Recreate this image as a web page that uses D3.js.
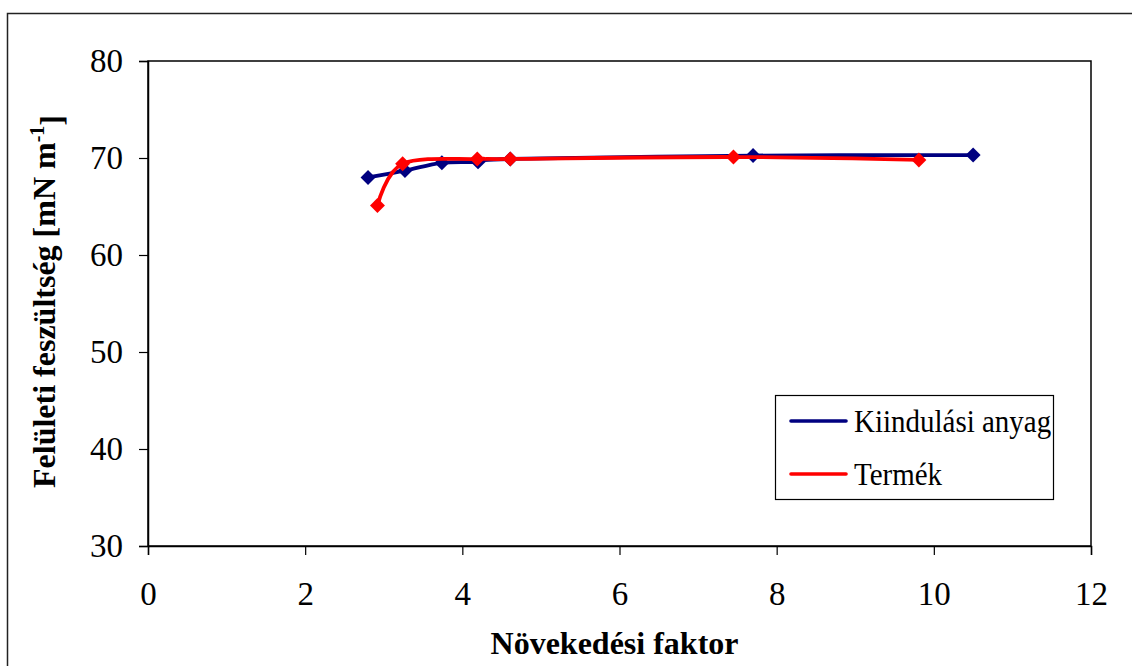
<!DOCTYPE html>
<html>
<head>
<meta charset="utf-8">
<script src="https://cdn.jsdelivr.net/npm/d3@7"></script>
<style>
  html, body { margin: 0; padding: 0; background: #fff; }
  svg { display: block; }
  svg text { font-family: "Liberation Serif", "Times New Roman", Tinos, Times, "DejaVu Serif", serif !important; }
</style>
</head>
<body>
<svg id="chart" width="1132" height="666"></svg>
<script>
// Growth factor vs. surface tension for the starting material and the product
const seriesNames = ["Kiindulási anyag", "Termék"];
const seriesColors = ["#000080", "#ff0000"];
const startX = [2.80, 3.27, 3.74, 4.20, 4.61, 7.70, 10.50];
const startY = [68.0, 68.7, 69.5, 69.6, 69.9, 70.25, 70.3];
const productX = [2.92, 3.24, 4.19, 4.61, 7.45, 9.81];
const productY = [65.1, 69.4, 69.9, 69.9, 70.1, 69.8];
const xTicks = [0, 2, 4, 6, 8, 10, 12];
const yTicks = [30, 40, 50, 60, 70, 80];
const xTitle = "Növekedési faktor";
const yTitle = "Felületi feszültség [mN m";

const svg = d3.select("#chart");
const plot = { left: 148, right: 1091, top: 61, bottom: 546 };

// outer chart frame (runs past the right and bottom edges)
svg.append("rect")
  .attr("x", 7.5).attr("y", 13.5)
  .attr("width", 1140).attr("height", 700)
  .attr("fill", "none").attr("stroke", "#222").attr("stroke-width", 1.5);

const x = d3.scaleLinear().domain([0, 12]).range([plot.left, plot.right]);
const y = d3.scaleLinear().domain([30, 80]).range([plot.bottom, plot.top]);

// plot area box
svg.append("rect")
  .attr("x", plot.left).attr("y", plot.top)
  .attr("width", plot.right - plot.left).attr("height", plot.bottom - plot.top)
  .attr("fill", "none").attr("stroke", "#000").attr("stroke-width", 1.5);

const xAxis = svg.append("g")
  .attr("transform", `translate(0,${plot.bottom})`)
  .call(d3.axisBottom(x).tickValues(xTicks).tickSize(9).tickPadding(27).tickFormat(d3.format("d")));
const yAxis = svg.append("g")
  .attr("transform", `translate(${plot.left},0)`)
  .call(d3.axisLeft(y).tickValues(yTicks).tickSize(9).tickPadding(16).tickFormat(d3.format("d")));

[xAxis, yAxis].forEach(g => {
  g.attr("font-family", null);
  g.select(".domain").attr("stroke", "#000").attr("stroke-width", 1.5);
  g.selectAll(".tick line").attr("stroke", "#000").attr("stroke-width", 1.2);
  g.selectAll(".tick text")
    .attr("fill", "#000")
    .style("font-size", "33px");
});
xAxis.selectAll(".tick text").attr("dy", "0.71em");

// axis titles
svg.append("text")
  .attr("x", (plot.left + plot.right) / 2 - 5).attr("y", 654)
  .attr("text-anchor", "middle")
  .style("font-size", "32px").style("font-weight", "bold")
  .text(xTitle);

const yt = svg.append("text")
  .attr("transform", `translate(55,${(plot.top + plot.bottom) / 2 - 2}) rotate(-90)`)
  .attr("text-anchor", "middle")
  .style("font-size", "32px").style("font-weight", "bold");
yt.append("tspan").text(yTitle);
yt.append("tspan").attr("dy", "-0.55em").style("font-size", "20px").text("-1");
yt.append("tspan").attr("dy", "0.55em").text("]");

// series: smoothed lines with diamond markers
const line = d3.line()
  .x(d => x(d[0])).y(d => y(d[1]))
  .curve(d3.curveCardinal.tension(0));

const diamond = d3.symbol().type(d3.symbolSquare).size(112);

const series = [
  d3.zip(startX, startY),
  d3.zip(productX, productY)
];

series.forEach((pts, i) => {
  const g = svg.append("g");
  g.append("path")
    .datum(pts)
    .attr("d", line)
    .attr("fill", "none")
    .attr("stroke", seriesColors[i])
    .attr("stroke-width", 3.8)
    .attr("stroke-linejoin", "round");
  g.selectAll("path.pt")
    .data(pts)
    .join("path")
    .attr("class", "pt")
    .attr("transform", d => `translate(${x(d[0])},${y(d[1])}) rotate(45)`)
    .attr("d", diamond)
    .attr("fill", seriesColors[i]);
});

// legend
const legend = svg.append("g");
legend.append("rect")
  .attr("x", 775.5).attr("y", 395.5)
  .attr("width", 278).attr("height", 104)
  .attr("fill", "#fff").attr("stroke", "#000").attr("stroke-width", 1.2);
seriesNames.forEach((name, i) => {
  const cy = 421 + i * 53;
  legend.append("line")
    .attr("x1", 791).attr("x2", 846)
    .attr("y1", cy).attr("y2", cy)
    .attr("stroke", seriesColors[i]).attr("stroke-width", 3.6)
    .attr("stroke-linecap", "round");
  legend.append("text")
    .attr("transform", `translate(854,${cy}) scale(1,1.12)`)
    .attr("dy", "0.35em")
    .style("font-size", "29px")
    .text(name);
});
</script>
</body>
</html>
